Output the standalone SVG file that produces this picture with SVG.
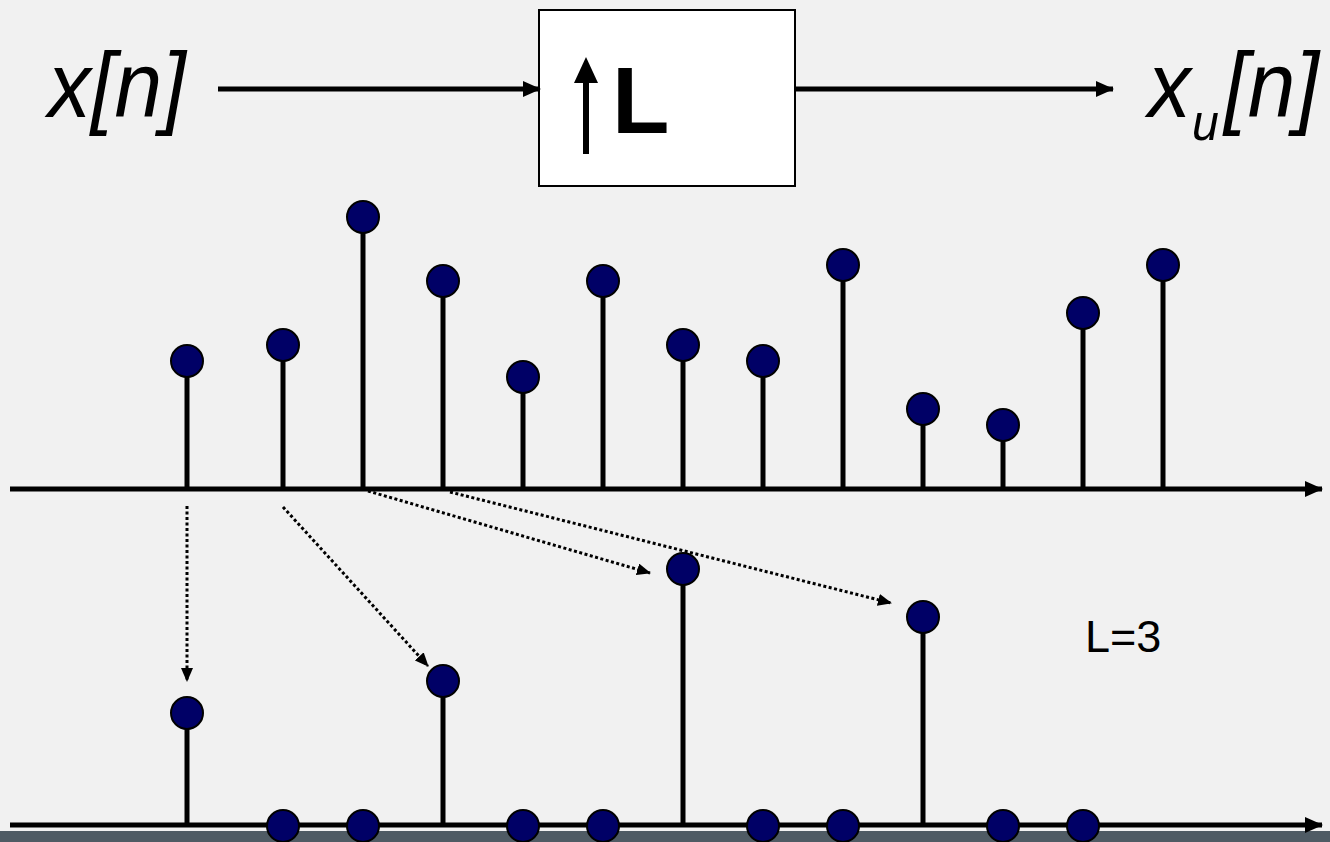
<svg xmlns="http://www.w3.org/2000/svg" width="1330" height="842" viewBox="0 0 1330 842">
<defs>
<style>
.stem{stroke:#000;stroke-width:5}
.dot{fill:#000066;stroke:#000;stroke-width:2}
.axis{stroke:#000;stroke-width:5;fill:none}
.flow{stroke:#000;stroke-width:5;fill:none}
.dots{stroke:#000;stroke-width:3;fill:none;stroke-dasharray:3 2.5}
.lbl{font-family:"Liberation Sans",Arial,sans-serif;font-style:italic;fill:#000}
</style>
<marker id="ahf" viewBox="0 0 18 16" refX="17" refY="8" markerWidth="18" markerHeight="16" markerUnits="userSpaceOnUse" orient="auto"><path d="M0,0 L18,8 L0,16 Z" fill="#000"/></marker>
<marker id="aha" viewBox="0 0 18 16" refX="17" refY="8" markerWidth="18" markerHeight="16" markerUnits="userSpaceOnUse" orient="auto"><path d="M0,0 L18,8 L0,16 Z" fill="#000"/></marker>
<marker id="ahs" viewBox="0 0 14 12" refX="13" refY="6" markerWidth="14" markerHeight="12" markerUnits="userSpaceOnUse" orient="auto"><path d="M0,0 L14,6 L0,12 Z" fill="#000"/></marker>
</defs>
<rect width="1330" height="842" fill="#f1f1f1"/>
<rect x="0" y="831" width="1330" height="11" fill="#4f5b64"/>

<g id="input-label"><text class="lbl" font-size="92" transform="translate(48,117) scale(0.93,1)">x[n]</text></g>
<g id="upsampler">
<rect x="539" y="10" width="256" height="176" fill="#fff" stroke="#000" stroke-width="2"/>
<line x1="586" y1="154" x2="586" y2="80" stroke="#000" stroke-width="6"/>
<path d="M574,83 L586,57 L598,83 Z" fill="#000"/>
<text x="612" y="133" font-family="Liberation Sans,Arial,sans-serif" font-weight="bold" font-size="94" fill="#000">L</text>
</g>
<g id="output-label">
<text class="lbl" font-size="92" transform="translate(1148,117) scale(0.93,1)">x</text>
<text class="lbl" font-size="52" transform="translate(1192,140) scale(0.93,1)">u</text>
<text class="lbl" font-size="92" transform="translate(1224,117) scale(0.93,1)">[n]</text>
</g>
<g id="L3"><text x="1085" y="652" font-family="Liberation Sans,Arial,sans-serif" font-size="45" fill="#000">L=3</text></g>

<g id="connectors">
<line class="flow" x1="218" y1="89" x2="540" y2="89" marker-end="url(#ahf)"/>
<line class="flow" x1="795" y1="89" x2="1113" y2="89" marker-end="url(#ahf)"/>
<line class="axis" x1="10" y1="489" x2="1322" y2="489" marker-end="url(#aha)"/>
<line class="axis" x1="10" y1="825" x2="1322" y2="825" marker-end="url(#aha)"/>
<line class="dots" x1="187" y1="506" x2="187" y2="681" marker-end="url(#ahs)"/>
<line class="dots" x1="283" y1="507" x2="428" y2="666" marker-end="url(#ahs)"/>
<line class="dots" x1="368" y1="491" x2="650" y2="573" marker-end="url(#ahs)"/>
<line class="dots" x1="450" y1="492" x2="891" y2="603" marker-end="url(#ahs)"/>
</g>

<g id="x-sequence">
<line class="stem" x1="187" y1="489" x2="187" y2="361"/><circle class="dot" cx="187" cy="361" r="16"/>
<line class="stem" x1="283" y1="489" x2="283" y2="345"/><circle class="dot" cx="283" cy="345" r="16"/>
<line class="stem" x1="363" y1="489" x2="363" y2="217"/><circle class="dot" cx="363" cy="217" r="16"/>
<line class="stem" x1="443" y1="489" x2="443" y2="281"/><circle class="dot" cx="443" cy="281" r="16"/>
<line class="stem" x1="523" y1="489" x2="523" y2="377"/><circle class="dot" cx="523" cy="377" r="16"/>
<line class="stem" x1="603" y1="489" x2="603" y2="281"/><circle class="dot" cx="603" cy="281" r="16"/>
<line class="stem" x1="683" y1="489" x2="683" y2="345"/><circle class="dot" cx="683" cy="345" r="16"/>
<line class="stem" x1="763" y1="489" x2="763" y2="361"/><circle class="dot" cx="763" cy="361" r="16"/>
<line class="stem" x1="843" y1="489" x2="843" y2="265"/><circle class="dot" cx="843" cy="265" r="16"/>
<line class="stem" x1="923" y1="489" x2="923" y2="409"/><circle class="dot" cx="923" cy="409" r="16"/>
<line class="stem" x1="1003" y1="489" x2="1003" y2="425"/><circle class="dot" cx="1003" cy="425" r="16"/>
<line class="stem" x1="1083" y1="489" x2="1083" y2="313"/><circle class="dot" cx="1083" cy="313" r="16"/>
<line class="stem" x1="1163" y1="489" x2="1163" y2="265"/><circle class="dot" cx="1163" cy="265" r="16"/>
</g>

<g id="xu-sequence">
<line class="stem" x1="187" y1="825" x2="187" y2="713"/><circle class="dot" cx="187" cy="713" r="16"/>
<line class="stem" x1="443" y1="825" x2="443" y2="681"/><circle class="dot" cx="443" cy="681" r="16"/>
<line class="stem" x1="683" y1="825" x2="683" y2="569"/><circle class="dot" cx="683" cy="569" r="16"/>
<line class="stem" x1="923" y1="825" x2="923" y2="617"/><circle class="dot" cx="923" cy="617" r="16"/>
<circle class="dot" cx="283" cy="826" r="16"/>
<circle class="dot" cx="363" cy="826" r="16"/>
<circle class="dot" cx="523" cy="826" r="16"/>
<circle class="dot" cx="603" cy="826" r="16"/>
<circle class="dot" cx="763" cy="826" r="16"/>
<circle class="dot" cx="843" cy="826" r="16"/>
<circle class="dot" cx="1003" cy="826" r="16"/>
<circle class="dot" cx="1083" cy="826" r="16"/>
</g>
</svg>
